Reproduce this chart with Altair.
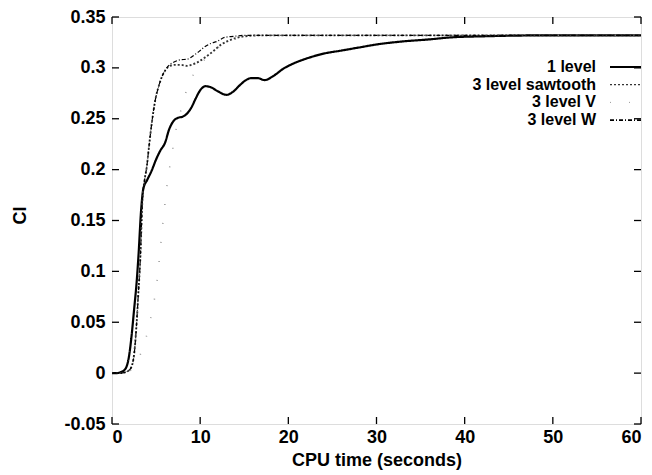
import altair as alt
import pandas as pd

# ---- data ----
series_names = ["1 level", "3 level sawtooth", "3 level V", "3 level W"]

t_1level = [0, 0.5, 1.0, 1.5, 1.9, 2.2, 2.5, 2.8, 3.0, 3.3, 3.55, 4.0, 4.5, 5.0, 5.5, 6.0,
            6.5, 7.0, 7.5, 8.0, 8.5, 9.0, 9.5, 10.0, 10.6, 11.2, 12.0, 13.0, 13.8, 14.5,
            15.2, 15.8, 16.5, 17.3, 18.3, 19.4, 20.5, 22, 24, 26, 28, 30, 33, 36, 38.5,
            42, 50, 60]
y_1level = [0, 0, 0.001, 0.004, 0.015, 0.035, 0.062, 0.09, 0.115, 0.16, 0.181, 0.19,
            0.199, 0.21, 0.219, 0.226, 0.24, 0.248, 0.251, 0.252, 0.255, 0.261, 0.27,
            0.278, 0.282, 0.281, 0.277, 0.2735, 0.277, 0.283, 0.288, 0.290, 0.290, 0.288,
            0.292, 0.299, 0.304, 0.309, 0.314, 0.317, 0.320, 0.323, 0.326, 0.328, 0.330,
            0.331, 0.332, 0.332]

t_w = [0, 1.0, 1.8, 2.2, 2.6, 2.8, 3.0, 3.2, 3.45, 3.7, 3.95, 4.15, 4.5, 4.9, 5.3, 5.65,
       6.0, 6.4, 7.1, 7.8, 8.5, 9.4, 10.0, 10.5, 11.2, 11.9, 12.8, 13.8, 15, 20, 30, 40,
       50, 60]
y_w = [0, 0, 0.002, 0.006, 0.026, 0.05, 0.08, 0.11, 0.17, 0.19, 0.203, 0.219, 0.245,
       0.268, 0.282, 0.291, 0.297, 0.302, 0.306, 0.308, 0.3085, 0.313, 0.317, 0.3206,
       0.324, 0.326, 0.330, 0.331, 0.332, 0.332, 0.332, 0.332, 0.332, 0.332]

t_saw = [0, 1.0, 1.8, 2.2, 2.6, 2.8, 3.0, 3.2, 3.45, 3.7, 3.95, 4.15, 4.5, 4.9, 5.3, 5.65,
         6.0, 6.4, 7.1, 7.8, 8.5, 9.0, 9.6, 10.5, 11.3, 12.4, 13.6, 15, 17, 30, 45, 60]
y_saw = [0, 0, 0.002, 0.006, 0.026, 0.05, 0.08, 0.11, 0.17, 0.19, 0.203, 0.219, 0.245,
         0.268, 0.282, 0.291, 0.297, 0.301, 0.303, 0.303, 0.302, 0.303, 0.305, 0.310,
         0.315, 0.323, 0.328, 0.331, 0.332, 0.332, 0.332, 0.332]

t_v = [0, 1.5, 2.6, 3.5, 4.3, 5.07, 5.8, 6.4, 6.8, 7.1, 7.8, 8.5, 9.2, 9.8, 10.5, 11.3,
       12.4, 13.6, 15, 17, 30, 45, 60]
y_v = [0, 0, 0.008, 0.025, 0.05, 0.088, 0.15, 0.195, 0.215, 0.232, 0.258, 0.279, 0.293,
       0.302, 0.308, 0.314, 0.322, 0.327, 0.330, 0.332, 0.332, 0.332, 0.332]

x_ticks = [0, 10, 20, 30, 40, 50, 60]
y_ticks = [-0.05, 0, 0.05, 0.1, 0.15, 0.2, 0.25, 0.3, 0.35]

# ---- styles ----
W, H = 529, 407
FONT = "Liberation Sans"
FS = 18
LFS = 16
dashes = {"1 level": [1, 0], "3 level sawtooth": [2, 2], "3 level V": [1, 18], "3 level W": [4, 2, 1, 2]}
widths = {"1 level": 2.2, "3 level sawtooth": 1.2, "3 level V": 1.0, "3 level W": 1.6}
colors = {"1 level": "#000000", "3 level sawtooth": "#333333", "3 level V": "#9a9a9a", "3 level W": "#000000"}

frames = []
for name, tt, yy in [("1 level", t_1level, y_1level), ("3 level sawtooth", t_saw, y_saw),
                     ("3 level V", t_v, y_v), ("3 level W", t_w, y_w)]:
    frames.append(pd.DataFrame({"t": tt, "cl": yy, "series": name}))
df = pd.concat(frames, ignore_index=True)

xscale = alt.Scale(domain=[0, 60], nice=False, zero=False)
yscale = alt.Scale(domain=[-0.05, 0.35], nice=False, zero=False)

lines = alt.Chart(df).mark_line(interpolate="monotone", clip=True).encode(
    x=alt.X("t:Q", scale=xscale, title="CPU time (seconds)",
            axis=alt.Axis(values=x_ticks, tickSize=0, domain=False, grid=False,
                          labelPadding=4, labelFont=FONT, labelFontSize=FS,
                          labelFontWeight="bold", titleFont=FONT, titleFontSize=FS,
                          titleFontWeight="bold", labelColor="black", titleColor="black",
                          titleY=36, titleBaseline="middle")),
    y=alt.Y("cl:Q", scale=yscale, title="Cl",
            axis=alt.Axis(values=y_ticks, tickSize=0, domain=False, grid=False,
                          labelExpr="toString(datum.value)",
                          labelPadding=7, labelFont=FONT, labelFontSize=FS,
                          labelFontWeight="bold", titleFont=FONT, titleFontSize=FS,
                          titleFontWeight="bold", labelColor="black", titleColor="black",
                          titleX=-92, titleY=198, titleAlign="center", titleBaseline="middle")),
    detail="series:N",
    color=alt.Color("series:N", scale=alt.Scale(domain=series_names, range=[colors[s] for s in series_names]), legend=None),
    strokeDash=alt.StrokeDash("series:N", scale=alt.Scale(domain=series_names, range=[dashes[s] for s in series_names]), legend=None),
    strokeWidth=alt.StrokeWidth("series:N", scale=alt.Scale(domain=series_names, range=[widths[s] for s in series_names]), legend=None),
)

xt = pd.DataFrame({"t": x_ticks})
yt = pd.DataFrame({"cl": y_ticks})
TL = 7
tick_layers = [
    alt.Chart(yt).mark_rule(color="black", strokeWidth=1.3).encode(y=alt.Y("cl:Q", scale=yscale), x=alt.value(0), x2=alt.value(TL)),
    alt.Chart(yt).mark_rule(color="black", strokeWidth=1.3).encode(y=alt.Y("cl:Q", scale=yscale), x=alt.value(W - TL), x2=alt.value(W)),
    alt.Chart(xt).mark_rule(color="black", strokeWidth=1.3).encode(x=alt.X("t:Q", scale=xscale), y=alt.value(H), y2=alt.value(H - TL)),
    alt.Chart(xt).mark_rule(color="black", strokeWidth=1.3).encode(x=alt.X("t:Q", scale=xscale), y=alt.value(0), y2=alt.value(TL)),
]

legend_layers = []
leg_y0, leg_dy = 50, 17.7
for i, name in enumerate(series_names):
    yy = leg_y0 + i * leg_dy
    legend_layers.append(
        alt.Chart(pd.DataFrame({"label": [name]})).mark_text(
            align="right", baseline="middle", font=FONT, fontSize=LFS, fontWeight="bold", color="black"
        ).encode(text="label:N", x=alt.value(484), y=alt.value(yy))
    )
    legend_layers.append(
        alt.Chart(pd.DataFrame({"label": [name]})).mark_rule(
            color=colors[name], strokeWidth=widths[name], strokeDash=dashes[name]
        ).encode(x=alt.value(498), x2=alt.value(W), y=alt.value(yy))
    )

chart = alt.layer(lines, *tick_layers, *legend_layers).properties(
    width=W, height=H,
    autosize=alt.AutoSizeParams(type="none"),
    padding={"left": 112, "top": 17, "right": 11, "bottom": 51},
).configure_view(stroke="black", strokeWidth=1.5).configure(background="white")

chart.save("out.html", embed_options={"renderer": "svg", "actions": False})
